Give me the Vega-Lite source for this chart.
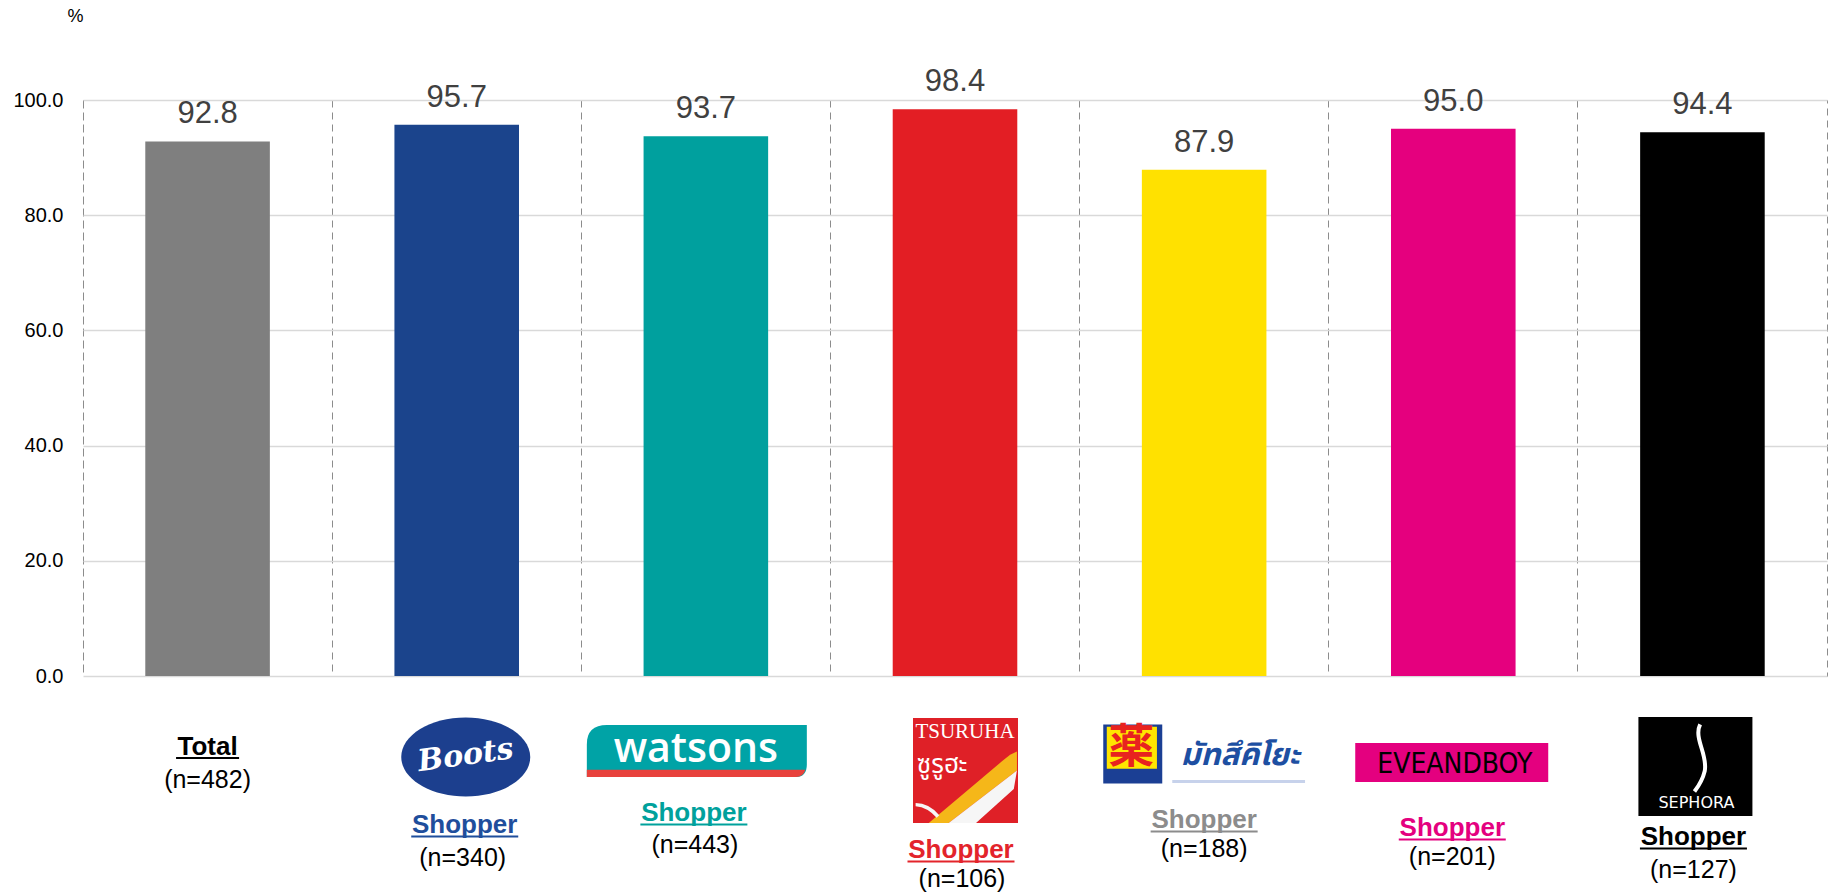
{
  "$schema": "https://vega.github.io/schema/vega-lite/v6.json",
  "width": 1744,
  "height": 576,
  "autosize": {"type": "none"},
  "padding": {"left": 83, "top": 100, "right": 4, "bottom": 219},
  "background": "white",
  "config": {
    "font": "Liberation Sans",
    "view": {"stroke": "#8c8c8c", "strokeDash": [7, 5], "strokeWidth": 1}
  },
  "datasets": {
    "bars": [
      {"cat": "Total", "value": 92.8},
      {"cat": "Boots", "value": 95.7},
      {"cat": "Watsons", "value": 93.7},
      {"cat": "Tsuruha", "value": 98.4},
      {"cat": "Matsumoto Kiyoshi", "value": 87.9},
      {"cat": "Eveandboy", "value": 95.0},
      {"cat": "Sephora", "value": 94.4}
    ],
    "labels": [
      {"cat": "Total", "head": "Total", "n": "(n=482)"},
      {"cat": "Boots", "head": "Shopper", "n": "(n=340)"},
      {"cat": "Watsons", "head": "Shopper", "n": "(n=443)"},
      {"cat": "Tsuruha", "head": "Shopper", "n": "(n=106)"},
      {"cat": "Matsumoto Kiyoshi", "head": "Shopper", "n": "(n=188)"},
      {"cat": "Eveandboy", "head": "Shopper", "n": "(n=201)"},
      {"cat": "Sephora", "head": "Shopper", "n": "(n=127)"}
    ],
    "logos": [
      {"cat": "Boots", "part": "wordmark", "text": "Boots"},
      {"cat": "Watsons", "part": "wordmark", "text": "watsons"},
      {"cat": "Tsuruha", "part": "latin", "text": "TSURUHA"},
      {"cat": "Tsuruha", "part": "thai", "text": "ซูรูฮะ"},
      {"cat": "Matsumoto Kiyoshi", "part": "kanji", "text": "薬"},
      {"cat": "Matsumoto Kiyoshi", "part": "thai", "text": "มัทสึคิโยะ"},
      {"cat": "Eveandboy", "part": "wordmark", "text": "EVEANDBOY"},
      {"cat": "Sephora", "part": "wordmark", "text": "SEPHORA"}
    ]
  },
  "layer": [
    {
      "data": {"name": "bars"},
      "mark": {"type": "bar", "width": {"band": 0.5}},
      "encoding": {
        "x": {
          "field": "cat", "type": "nominal",
          "scale": {"domain": ["Total", "Boots", "Watsons", "Tsuruha", "Matsumoto Kiyoshi", "Eveandboy", "Sephora"], "paddingInner": 0, "paddingOuter": 0},
          "axis": {"title": null, "labels": false, "ticks": false, "domain": false, "grid": true, "gridColor": "#8c8c8c", "gridDash": [7, 5], "gridWidth": 1, "bandPosition": 0}
        },
        "y": {
          "field": "value", "type": "quantitative",
          "scale": {"domain": [0, 100], "nice": false},
          "axis": {"values": [0, 20, 40, 60, 80, 100], "format": ".1f", "labelFontSize": 20, "labelColor": "#000000", "labelPadding": 20, "ticks": false, "domain": false, "grid": true, "gridColor": "#d9d9d9", "gridWidth": 1.5,
                   "title": "%", "titleAngle": 0, "titleFontSize": 18, "titleFontWeight": "normal", "titleColor": "#000000", "titleX": -8, "titleY": -84, "titleAlign": "center", "titleBaseline": "middle"}
        },
        "color": {
          "field": "cat", "type": "nominal", "legend": null,
          "scale": {"domain": ["Total", "Boots", "Watsons", "Tsuruha", "Matsumoto Kiyoshi", "Eveandboy", "Sephora"],
                    "range": ["#7f7f7f", "#1b448c", "#00a09e", "#e31e24", "#ffe100", "#e5007e", "#000000"]}
        }
      }
    },
    {
      "data": {"name": "bars"},
      "mark": {"type": "text", "fontSize": 31, "color": "#404040", "baseline": "alphabetic", "dy": -18},
      "encoding": {
        "x": {"field": "cat", "type": "nominal"},
        "y": {"field": "value", "type": "quantitative"},
        "text": {"field": "value", "type": "quantitative", "format": ".1f"}
      }
    },

    {
      "data": {"name": "labels"}, "transform": [{"filter": {"field": "cat", "equal": "Total"}}],
      "mark": {"type": "text", "fontSize": 26, "fontWeight": "bold", "color": "#000000", "baseline": "alphabetic"},
      "encoding": {"x": {"field": "cat", "type": "nominal"}, "y": {"datum": -13.72, "type": "quantitative"}, "text": {"field": "head"}}
    },
    {
      "data": {"name": "labels"}, "transform": [{"filter": {"field": "cat", "equal": "Total"}}],
      "mark": {"type": "point", "shape": "M-0.589,-0.019H0.589V0.019H-0.589Z", "size": 11449, "filled": true, "opacity": 1, "strokeWidth": 0, "color": "#000000"},
      "encoding": {"x": {"field": "cat", "type": "nominal"}, "y": {"datum": -14.24, "type": "quantitative"}}
    },
    {
      "data": {"name": "labels"}, "transform": [{"filter": {"field": "cat", "equal": "Total"}}],
      "mark": {"type": "text", "fontSize": 25, "color": "#000000", "baseline": "alphabetic"},
      "encoding": {"x": {"field": "cat", "type": "nominal"}, "y": {"datum": -19.44, "type": "quantitative"}, "text": {"field": "n"}}
    },

    {
      "data": {"name": "bars"}, "transform": [{"filter": {"field": "cat", "equal": "Boots"}}],
      "mark": {"type": "point", "shape": "M-0.86,0A1,0.612,0,1,0,1.14,0A1,0.612,0,1,0,-0.86,0Z", "size": 16641, "filled": true, "opacity": 1, "strokeWidth": 0, "color": "#1c3f8e"},
      "encoding": {"x": {"field": "cat", "type": "nominal"}, "y": {"datum": -14.06, "type": "quantitative"}}
    },
    {
      "data": {"name": "logos"}, "transform": [{"filter": {"field": "cat", "equal": "Boots"}}],
      "mark": {"type": "text", "font": "DejaVu Serif", "fontStyle": "italic", "fontWeight": "bold", "fontSize": 30, "color": "#ffffff", "baseline": "middle", "angle": -8, "dx": 9},
      "encoding": {"x": {"field": "cat", "type": "nominal"}, "y": {"datum": -14.06, "type": "quantitative"}, "text": {"field": "text"}}
    },
    {
      "data": {"name": "labels"}, "transform": [{"filter": {"field": "cat", "equal": "Boots"}}],
      "mark": {"type": "text", "fontSize": 26, "fontWeight": "bold", "color": "#1f4e9c", "baseline": "alphabetic", "dx": 8},
      "encoding": {"x": {"field": "cat", "type": "nominal"}, "y": {"datum": -27.26, "type": "quantitative"}, "text": {"field": "head"}}
    },
    {
      "data": {"name": "labels"}, "transform": [{"filter": {"field": "cat", "equal": "Boots"}}],
      "mark": {"type": "point", "shape": "M-0.85,-0.019H1.15V0.019H-0.85Z", "size": 11449, "filled": true, "opacity": 1, "strokeWidth": 0, "color": "#1f4e9c"},
      "encoding": {"x": {"field": "cat", "type": "nominal"}, "y": {"datum": -27.86, "type": "quantitative"}}
    },
    {
      "data": {"name": "labels"}, "transform": [{"filter": {"field": "cat", "equal": "Boots"}}],
      "mark": {"type": "text", "fontSize": 25, "color": "#000000", "baseline": "alphabetic", "dx": 6},
      "encoding": {"x": {"field": "cat", "type": "nominal"}, "y": {"datum": -32.99, "type": "quantitative"}, "text": {"field": "n"}}
    },

    {
      "data": {"name": "bars"}, "transform": [{"filter": {"field": "cat", "equal": "Watsons"}}],
      "mark": {"type": "point", "shape": "M-1.082,0.236L-1.082,-0.06Q-1.082,-0.236,-0.9,-0.236L0.918,-0.236L0.918,0.12Q0.918,0.236,0.82,0.236Z", "size": 48400, "filled": true, "opacity": 1, "strokeWidth": 0, "color": "#00a3a6"},
      "encoding": {"x": {"field": "cat", "type": "nominal"}, "y": {"datum": -13.02, "type": "quantitative"}}
    },
    {
      "data": {"name": "bars"}, "transform": [{"filter": {"field": "cat", "equal": "Watsons"}}],
      "mark": {"type": "point", "shape": "M-1.082,0.17L0.905,0.17Q0.885,0.236,0.82,0.236L-1.082,0.236Z", "size": 48400, "filled": true, "opacity": 1, "strokeWidth": 0, "color": "#e8413c"},
      "encoding": {"x": {"field": "cat", "type": "nominal"}, "y": {"datum": -13.02, "type": "quantitative"}}
    },
    {
      "data": {"name": "logos"}, "transform": [{"filter": {"field": "cat", "equal": "Watsons"}}],
      "mark": {"type": "text", "font": "Open Sans", "fontWeight": 600, "fontSize": 41, "color": "#ffffff", "baseline": "alphabetic", "dx": -10},
      "encoding": {"x": {"field": "cat", "type": "nominal"}, "y": {"datum": -14.93, "type": "quantitative"}, "text": {"field": "text"}}
    },
    {
      "data": {"name": "labels"}, "transform": [{"filter": {"field": "cat", "equal": "Watsons"}}],
      "mark": {"type": "text", "fontSize": 26, "fontWeight": "bold", "color": "#00a19c", "baseline": "alphabetic", "dx": -12},
      "encoding": {"x": {"field": "cat", "type": "nominal"}, "y": {"datum": -25.17, "type": "quantitative"}, "text": {"field": "head"}}
    },
    {
      "data": {"name": "labels"}, "transform": [{"filter": {"field": "cat", "equal": "Watsons"}}],
      "mark": {"type": "point", "shape": "M-1.224,-0.019H0.776V0.019H-1.224Z", "size": 11449, "filled": true, "opacity": 1, "strokeWidth": 0, "color": "#00a19c"},
      "encoding": {"x": {"field": "cat", "type": "nominal"}, "y": {"datum": -25.78, "type": "quantitative"}}
    },
    {
      "data": {"name": "labels"}, "transform": [{"filter": {"field": "cat", "equal": "Watsons"}}],
      "mark": {"type": "text", "fontSize": 25, "color": "#000000", "baseline": "alphabetic", "dx": -11},
      "encoding": {"x": {"field": "cat", "type": "nominal"}, "y": {"datum": -30.73, "type": "quantitative"}, "text": {"field": "n"}}
    },

    {
      "data": {"name": "bars"}, "transform": [{"filter": {"field": "cat", "equal": "Tsuruha"}}],
      "mark": {"type": "point", "shape": "M-0.8,-1H1.2V1H-0.8Z", "size": 11025, "filled": true, "opacity": 1, "strokeWidth": 0, "color": "#df2027"},
      "encoding": {"x": {"field": "cat", "type": "nominal"}, "y": {"datum": -16.41, "type": "quantitative"}}
    },
    {
      "data": {"name": "bars"}, "transform": [{"filter": {"field": "cat", "equal": "Tsuruha"}}],
      "mark": {"type": "point", "shape": "M-0.5,1L-0.12,1L1.18,0.0L1.18,-0.36L1.05,-0.3L0.9,-0.18Z", "size": 11025, "filled": true, "opacity": 1, "strokeWidth": 0, "color": "#f5b719"},
      "encoding": {"x": {"field": "cat", "type": "nominal"}, "y": {"datum": -16.41, "type": "quantitative"}}
    },
    {
      "data": {"name": "bars"}, "transform": [{"filter": {"field": "cat", "equal": "Tsuruha"}}],
      "mark": {"type": "point", "shape": "M-0.12,1L0.4,1L1.12,0.35L1.18,0.0ZM-0.75,0.62Q-0.5,0.62,-0.3,0.85L-0.35,0.9Q-0.52,0.7,-0.75,0.68Z", "size": 11025, "filled": true, "opacity": 1, "strokeWidth": 0, "color": "#f6f6f6"},
      "encoding": {"x": {"field": "cat", "type": "nominal"}, "y": {"datum": -16.41, "type": "quantitative"}}
    },
    {
      "data": {"name": "logos"}, "transform": [{"filter": "datum.cat == 'Tsuruha' && datum.part == 'latin'"}],
      "mark": {"type": "text", "font": "Liberation Serif", "fontSize": 21, "color": "#ffffff", "baseline": "alphabetic", "dx": 10},
      "encoding": {"x": {"field": "cat", "type": "nominal"}, "y": {"datum": -10.76, "type": "quantitative"}, "text": {"field": "text"}}
    },
    {
      "data": {"name": "logos"}, "transform": [{"filter": "datum.cat == 'Tsuruha' && datum.part == 'thai'"}],
      "mark": {"type": "text", "font": "Noto Sans Thai, Noto Sans, sans-serif", "fontSize": 26, "color": "#ffffff", "baseline": "alphabetic", "dx": -13},
      "encoding": {"x": {"field": "cat", "type": "nominal"}, "y": {"datum": -16.84, "type": "quantitative"}, "text": {"field": "text"}}
    },
    {
      "data": {"name": "labels"}, "transform": [{"filter": {"field": "cat", "equal": "Tsuruha"}}],
      "mark": {"type": "text", "fontSize": 26, "fontWeight": "bold", "color": "#e3242b", "baseline": "alphabetic", "dx": 6},
      "encoding": {"x": {"field": "cat", "type": "nominal"}, "y": {"datum": -31.6, "type": "quantitative"}, "text": {"field": "head"}}
    },
    {
      "data": {"name": "labels"}, "transform": [{"filter": {"field": "cat", "equal": "Tsuruha"}}],
      "mark": {"type": "point", "shape": "M-0.888,-0.019H1.112V0.019H-0.888Z", "size": 11449, "filled": true, "opacity": 1, "strokeWidth": 0, "color": "#e3242b"},
      "encoding": {"x": {"field": "cat", "type": "nominal"}, "y": {"datum": -32.2, "type": "quantitative"}}
    },
    {
      "data": {"name": "labels"}, "transform": [{"filter": {"field": "cat", "equal": "Tsuruha"}}],
      "mark": {"type": "text", "fontSize": 25, "color": "#000000", "baseline": "alphabetic", "dx": 7},
      "encoding": {"x": {"field": "cat", "type": "nominal"}, "y": {"datum": -36.6, "type": "quantitative"}, "text": {"field": "n"}}
    },

    {
      "data": {"name": "bars"}, "transform": [{"filter": {"field": "cat", "equal": "Matsumoto Kiyoshi"}}],
      "mark": {"type": "point", "shape": "M-3.42,-1H-1.42V1H-3.42Z", "size": 3481, "filled": true, "opacity": 1, "strokeWidth": 0, "color": "#1b3f94"},
      "encoding": {"x": {"field": "cat", "type": "nominal"}, "y": {"datum": -13.54, "type": "quantitative"}}
    },
    {
      "data": {"name": "bars"}, "transform": [{"filter": {"field": "cat", "equal": "Matsumoto Kiyoshi"}}],
      "mark": {"type": "point", "shape": "M-3.3,-0.92H-1.6V0.5H-3.3Z", "size": 3481, "filled": true, "opacity": 1, "strokeWidth": 0, "color": "#ffe500"},
      "encoding": {"x": {"field": "cat", "type": "nominal"}, "y": {"datum": -13.54, "type": "quantitative"}}
    },
    {
      "data": {"name": "bars"}, "transform": [{"filter": {"field": "cat", "equal": "Matsumoto Kiyoshi"}}],
      "mark": {"type": "point", "shape": "M-1.08,0.88H3.42V0.98H-1.08Z", "size": 3481, "filled": true, "opacity": 0.5, "strokeWidth": 0, "color": "#8fa6d8"},
      "encoding": {"x": {"field": "cat", "type": "nominal"}, "y": {"datum": -13.54, "type": "quantitative"}}
    },
    {
      "data": {"name": "logos"}, "transform": [{"filter": "datum.cat == 'Matsumoto Kiyoshi' && datum.part == 'kanji'"}],
      "mark": {"type": "text", "font": "Noto Sans CJK JP", "fontWeight": "bold", "fontSize": 46, "color": "#e8231f", "baseline": "middle", "dx": -73},
      "encoding": {"x": {"field": "cat", "type": "nominal"}, "y": {"datum": -12.5, "type": "quantitative"}, "text": {"field": "text"}}
    },
    {
      "data": {"name": "logos"}, "transform": [{"filter": "datum.cat == 'Matsumoto Kiyoshi' && datum.part == 'thai'"}],
      "mark": {"type": "text", "font": "Noto Sans Thai, Noto Sans, sans-serif", "fontWeight": "bold", "fontStyle": "italic", "fontSize": 31, "color": "#1d4fa2", "baseline": "alphabetic", "dx": 36},
      "encoding": {"x": {"field": "cat", "type": "nominal"}, "y": {"datum": -15.45, "type": "quantitative"}, "text": {"field": "text"}}
    },
    {
      "data": {"name": "labels"}, "transform": [{"filter": {"field": "cat", "equal": "Matsumoto Kiyoshi"}}],
      "mark": {"type": "text", "fontSize": 26, "fontWeight": "bold", "color": "#8c8c8c", "baseline": "alphabetic"},
      "encoding": {"x": {"field": "cat", "type": "nominal"}, "y": {"datum": -26.39, "type": "quantitative"}, "text": {"field": "head"}}
    },
    {
      "data": {"name": "labels"}, "transform": [{"filter": {"field": "cat", "equal": "Matsumoto Kiyoshi"}}],
      "mark": {"type": "point", "shape": "M-1,-0.019H1V0.019H-1Z", "size": 11449, "filled": true, "opacity": 1, "strokeWidth": 0, "color": "#8c8c8c"},
      "encoding": {"x": {"field": "cat", "type": "nominal"}, "y": {"datum": -27.0, "type": "quantitative"}}
    },
    {
      "data": {"name": "labels"}, "transform": [{"filter": {"field": "cat", "equal": "Matsumoto Kiyoshi"}}],
      "mark": {"type": "text", "fontSize": 25, "color": "#000000", "baseline": "alphabetic"},
      "encoding": {"x": {"field": "cat", "type": "nominal"}, "y": {"datum": -31.42, "type": "quantitative"}, "text": {"field": "n"}}
    },

    {
      "data": {"name": "bars"}, "transform": [{"filter": {"field": "cat", "equal": "Eveandboy"}}],
      "mark": {"type": "point", "shape": "M-1.016,-0.202H0.984V0.202H-1.016Z", "size": 37249, "filled": true, "opacity": 1, "strokeWidth": 0, "color": "#e4007f"},
      "encoding": {"x": {"field": "cat", "type": "nominal"}, "y": {"datum": -15.02, "type": "quantitative"}}
    },
    {
      "data": {"name": "logos"}, "transform": [{"filter": {"field": "cat", "equal": "Eveandboy"}}],
      "mark": {"type": "text", "font": "Liberation Sans Narrow, DejaVu Sans Condensed, Liberation Sans", "fontSize": 28, "color": "#000000", "baseline": "alphabetic", "dx": 1.5},
      "encoding": {"x": {"field": "cat", "type": "nominal"}, "y": {"datum": -16.9, "type": "quantitative"}, "text": {"field": "text"}}
    },
    {
      "data": {"name": "labels"}, "transform": [{"filter": {"field": "cat", "equal": "Eveandboy"}}],
      "mark": {"type": "text", "fontSize": 26, "fontWeight": "bold", "color": "#e4007f", "baseline": "alphabetic", "dx": -1},
      "encoding": {"x": {"field": "cat", "type": "nominal"}, "y": {"datum": -27.78, "type": "quantitative"}, "text": {"field": "head"}}
    },
    {
      "data": {"name": "labels"}, "transform": [{"filter": {"field": "cat", "equal": "Eveandboy"}}],
      "mark": {"type": "point", "shape": "M-1.019,-0.019H0.981V0.019H-1.019Z", "size": 11449, "filled": true, "opacity": 1, "strokeWidth": 0, "color": "#e4007f"},
      "encoding": {"x": {"field": "cat", "type": "nominal"}, "y": {"datum": -28.39, "type": "quantitative"}}
    },
    {
      "data": {"name": "labels"}, "transform": [{"filter": {"field": "cat", "equal": "Eveandboy"}}],
      "mark": {"type": "text", "fontSize": 25, "color": "#000000", "baseline": "alphabetic", "dx": -1},
      "encoding": {"x": {"field": "cat", "type": "nominal"}, "y": {"datum": -32.81, "type": "quantitative"}, "text": {"field": "n"}}
    },

    {
      "data": {"name": "bars"}, "transform": [{"filter": {"field": "cat", "equal": "Sephora"}}],
      "mark": {"type": "point", "shape": "M-1.123,-0.868H0.877V0.868H-1.123Z", "size": 12996, "filled": true, "opacity": 1, "strokeWidth": 0, "color": "#000000"},
      "encoding": {"x": {"field": "cat", "type": "nominal"}, "y": {"datum": -15.71, "type": "quantitative"}}
    },
    {
      "data": {"name": "bars"}, "transform": [{"filter": {"field": "cat", "equal": "Sephora"}}],
      "mark": {"type": "point", "shape": "M-0.04,-0.74C-0.16,-0.5,0.1,-0.2,0.04,0.08C0.0,0.25,-0.08,0.36,-0.14,0.44", "size": 12996, "filled": false, "opacity": 1, "strokeWidth": 4, "color": "#ffffff"},
      "encoding": {"x": {"field": "cat", "type": "nominal"}, "y": {"datum": -15.71, "type": "quantitative"}}
    },
    {
      "data": {"name": "logos"}, "transform": [{"filter": {"field": "cat", "equal": "Sephora"}}],
      "mark": {"type": "text", "font": "DejaVu Sans", "fontSize": 16, "color": "#ffffff", "baseline": "alphabetic", "dx": -6},
      "encoding": {"x": {"field": "cat", "type": "nominal"}, "y": {"datum": -22.92, "type": "quantitative"}, "text": {"field": "text"}}
    },
    {
      "data": {"name": "labels"}, "transform": [{"filter": {"field": "cat", "equal": "Sephora"}}],
      "mark": {"type": "text", "fontSize": 26, "fontWeight": "bold", "color": "#000000", "baseline": "alphabetic", "dx": -9},
      "encoding": {"x": {"field": "cat", "type": "nominal"}, "y": {"datum": -29.34, "type": "quantitative"}, "text": {"field": "head"}}
    },
    {
      "data": {"name": "labels"}, "transform": [{"filter": {"field": "cat", "equal": "Sephora"}}],
      "mark": {"type": "point", "shape": "M-1.168,-0.019H0.832V0.019H-1.168Z", "size": 11449, "filled": true, "opacity": 1, "strokeWidth": 0, "color": "#000000"},
      "encoding": {"x": {"field": "cat", "type": "nominal"}, "y": {"datum": -29.95, "type": "quantitative"}}
    },
    {
      "data": {"name": "labels"}, "transform": [{"filter": {"field": "cat", "equal": "Sephora"}}],
      "mark": {"type": "text", "fontSize": 25, "color": "#000000", "baseline": "alphabetic", "dx": -9},
      "encoding": {"x": {"field": "cat", "type": "nominal"}, "y": {"datum": -35.07, "type": "quantitative"}, "text": {"field": "n"}}
    }
  ]
}
